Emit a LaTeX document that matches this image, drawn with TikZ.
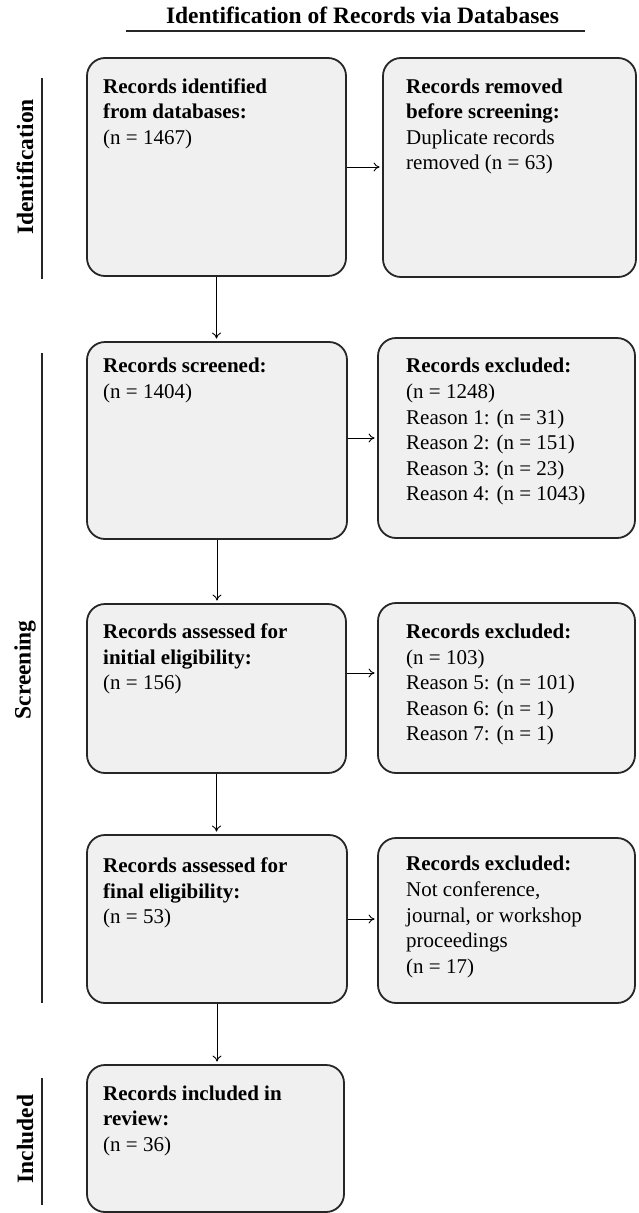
\documentclass[tikz,border=0pt]{standalone}
\usepackage{fontspec}
\setmainfont{Liberation Serif}
\usepackage{tikz}
\usetikzlibrary{arrows.meta}

\newcommand{\boxfont}{\fontsize{21}{25.6}\selectfont}
\newcommand{\headfont}{\fontsize{23.5}{28}\selectfont\bfseries}

\begin{document}
\begin{tikzpicture}[x=1pt,y=-1pt]
    \tikzstyle{recbox} = [draw=black!85, line width=1.8pt, fill=black!6, rounded corners=18pt, inner sep=0pt]
    \tikzstyle{rectxt} = [anchor=north west, inner sep=0pt, align=left, font=\boxfont]
    \tikzstyle{flow} = [-{To[length=6pt,width=9pt]}, line width=0.9pt, shorten >=2.5pt]
    \tikzstyle{phase} = [rotate=90, font=\headfont]

    \useasboundingbox (0,0) rectangle (638,1213);

    % Title
    \node[font=\headfont, anchor=base] (title) at (362.5,23) {Identification of Records via Databases};
    \draw[line width=1.5pt, black!85] (126,31) -- (585,31);

    % Phase labels on the left
    \node[phase] (idlabel) at (25,167) {Identification};
    \node[phase] (sclabel) at (25,670) {Screening};
    \node[phase] (inlabel) at (25,1139) {Included};
    \draw[line width=1.5pt, black!85] (42,78) -- (42,279);
    \draw[line width=1.5pt, black!85] (42,353) -- (42,1003);
    \draw[line width=1.5pt, black!85] (42,1078) -- (42,1205);

    % Boxes, left column
    \node[recbox, minimum width=259pt, minimum height=218pt] (ident) at (216.5,167) {};
    \node[recbox, minimum width=260pt, minimum height=197pt] (screened) at (217,440.5) {};
    \node[recbox, minimum width=259pt, minimum height=169pt] (initial) at (216.5,688.5) {};
    \node[recbox, minimum width=260pt, minimum height=168pt] (final) at (217,919) {};
    \node[recbox, minimum width=257pt, minimum height=147pt] (included) at (215.5,1138.5) {};

    % Boxes, right column
    \node[recbox, minimum width=253pt, minimum height=219pt] (removed) at (509.5,167.5) {};
    \node[recbox, minimum width=257pt, minimum height=200pt] (excla) at (506.5,438) {};
    \node[recbox, minimum width=257pt, minimum height=170pt] (exclb) at (506.5,688) {};
    \node[recbox, minimum width=257pt, minimum height=165pt] (exclc) at (506.5,920.5) {};

    % Box texts
    \node[rectxt] (identtxt) at (103,75) {\strut\textbf{Records identified}\\\textbf{from databases:}\\(n = 1467)};
    \node[rectxt] (removedtxt) at (406,75) {\strut\textbf{Records removed}\\\textbf{before screening:}\\Duplicate records\\removed (n = 63)};
    \node[rectxt] (screenedtxt) at (103,354.7) {\strut\textbf{Records screened:}\\(n = 1404)};
    \node[rectxt] (exclatxt) at (406,354.7) {\strut\textbf{Records excluded:}\\(n = 1248)\\Reason 1: (n = 31)\\Reason 2: (n = 151)\\Reason 3: (n = 23)\\Reason 4: (n = 1043)};
    \node[rectxt] (initialtxt) at (103,620.3) {\strut\textbf{Records assessed for}\\\textbf{initial eligibility:}\\(n = 156)};
    \node[rectxt] (exclbtxt) at (406,620.3) {\strut\textbf{Records excluded:}\\(n = 103)\\Reason 5: (n = 101)\\Reason 6: (n = 1)\\Reason 7: (n = 1)};
    \node[rectxt] (finaltxt) at (103,854.3) {\strut\textbf{Records assessed for}\\\textbf{final eligibility:}\\(n = 53)};
    \node[rectxt] (exclctxt) at (406,852.7) {\strut\textbf{Records excluded:}\\Not conference,\\journal, or workshop\\proceedings\\(n = 17)};
    \node[rectxt] (includedtxt) at (103,1082) {\strut\textbf{Records included in}\\\textbf{review:}\\(n = 36)};

    % Arrows
    \draw[flow] (ident.east) -- (ident.east -| removed.west);
    \draw[flow] (ident.south) -- (ident.south |- screened.north);
    \draw[flow] (excla.west -| screened.east) -- (excla.west);
    \draw[flow] (screened.south) -- (screened.south |- initial.north);
    \draw[flow] ([yshift=15.5pt]initial.east) -- ([yshift=15.5pt]initial.east -| exclb.west);
    \draw[flow] (initial.south) -- (initial.south |- final.north);
    \draw[flow] (final.east) -- (final.east -| exclc.west);
    \draw[flow] (final.south) -- (final.south |- included.north);
\end{tikzpicture}
\end{document}
